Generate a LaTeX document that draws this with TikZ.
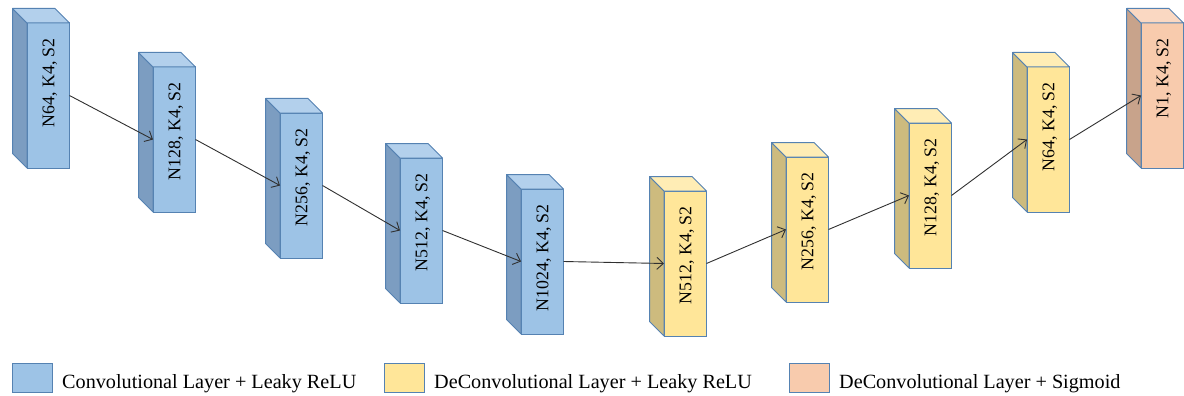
\documentclass[tikz,border=0pt]{standalone}
\usepackage{fontspec}
\setmainfont{Liberation Serif}
\usetikzlibrary{arrows.meta}

% face colours of the three layer kinds: front, shaded side, lit top
\definecolor{convfront}{HTML}{9DC3E6}
\definecolor{convside}{HTML}{7C9DC1}
\definecolor{convtop}{HTML}{B3D0EC}
\definecolor{defront}{HTML}{FFE699}
\definecolor{deside}{HTML}{CDBB7E}
\definecolor{detop}{HTML}{FFEDB5}
\definecolor{sigfront}{HTML}{F8CBAD}
\definecolor{sigside}{HTML}{C8A38B}
\definecolor{sigtop}{HTML}{FAD8C2}
\definecolor{edgeblue}{HTML}{5582B2}
\definecolor{wire}{HTML}{303030}

\tikzset{
  face/.style={draw=edgeblue, line width=1pt, minimum width=42.5pt,
    minimum height=145pt, inner sep=0pt, outer sep=0pt, anchor=north west},
  rim/.style={draw=edgeblue, line width=1pt, line join=round},
  lbl/.style={font=\fontsize{17.8pt}{20pt}\selectfont, inner sep=0pt,
    rotate=90, anchor=east},
  conn/.style={draw=wire, line width=0.9pt,
    -{Straight Barb[length=6.5pt,width=12pt,line width=0.9pt]}},
  keybox/.style={draw=edgeblue, line width=1pt, minimum width=40pt,
    minimum height=29pt, inner sep=0pt, outer sep=0pt, anchor=north west},
  keytext/.style={font=\fontsize{20.2pt}{24pt}\selectfont, inner sep=0pt,
    anchor=base west},
}

% a layer drawn as a box: name, x, y of the front face's top left corner,
% front / side / top colours, caption
\newcommand\layerbox[7]{%
  \node[face, fill=#4] (#1) at (#2,#3) {};
  \draw[rim, fill=#5] (#1.north west) -- ++(-14.5,-14.5) -- ++(0,145)
    -- (#1.south west) -- cycle;
  \draw[rim, fill=#6] (#1.north west) -- ++(-14.5,-14.5) -- ++(42.5,0)
    -- (#1.north east) -- cycle;
  \node[lbl] (#1t) at ([xshift=1.5pt,yshift=-15pt]#1.north) {#7};
}

\begin{document}
\begin{tikzpicture}[x=1pt, y=-1pt]
  \useasboundingbox (0,0) rectangle (1184,396);

  % encoder
  \layerbox{b1}{27}{23}{convfront}{convside}{convtop}{N64, K4, S2}
  \layerbox{b2}{153}{67}{convfront}{convside}{convtop}{N128, K4, S2}
  \layerbox{b3}{280}{113}{convfront}{convside}{convtop}{N256, K4, S2}
  \layerbox{b4}{400}{158}{convfront}{convside}{convtop}{N512, K4, S2}
  \layerbox{b5}{521}{189}{convfront}{convside}{convtop}{N1024, K4, S2}
  % decoder
  \layerbox{b6}{664}{191}{defront}{deside}{detop}{N512, K4, S2}
  \layerbox{b7}{786}{157}{defront}{deside}{detop}{N256, K4, S2}
  \layerbox{b8}{909}{123}{defront}{deside}{detop}{N128, K4, S2}
  \layerbox{b9}{1027}{67}{defront}{deside}{detop}{N64, K4, S2}
  \layerbox{b10}{1141}{23}{sigfront}{sigside}{sigtop}{N1, K4, S2}

  % data flow
  \foreach \a/\b in {b1/b2, b2/b3, b3/b4, b4/b5, b5/b6, b6/b7, b7/b8, b8/b9, b9/b10}
    \draw[conn] (\a.east) -- (\b.west);

  % legend
  \node[keybox, fill=convfront] (k1) at (12,363) {};
  \node[keytext] (k1t) at (62,388) {Convolutional Layer + Leaky ReLU};
  \node[keybox, fill=defront] (k2) at (384,363) {};
  \node[keytext] (k2t) at (434,388) {DeConvolutional Layer + Leaky ReLU};
  \node[keybox, fill=sigfront] (k3) at (789,363) {};
  \node[keytext] (k3t) at (839,388) {DeConvolutional Layer + Sigmoid};
\end{tikzpicture}
\end{document}
